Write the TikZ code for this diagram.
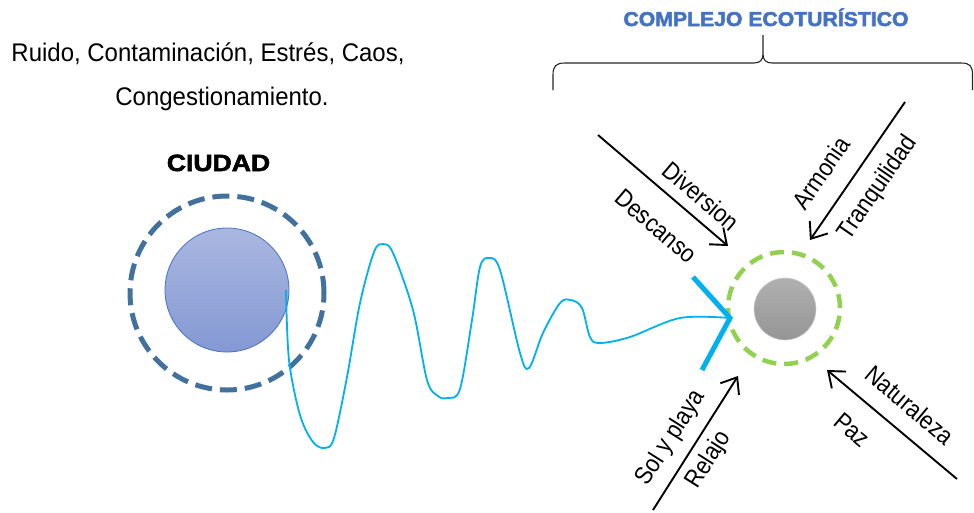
\documentclass[tikz,border=0pt]{standalone}
\usepackage{fontspec}
\setmainfont{Liberation Sans}
\newfontfamily\narrowfont[FakeStretch=0.94]{Liberation Sans}
\newfontfamily\lblfont[FakeStretch=0.88]{Liberation Sans}
\newfontfamily\titlefont[FakeBold=2.5,FakeStretch=1.06]{Liberation Sans Bold}
\newfontfamily\ciudadfont[FakeBold=2.5,FakeStretch=1.13]{Liberation Sans Bold}
\usetikzlibrary{arrows.meta,calc}
\definecolor{titleblue}{HTML}{4472C4}
\definecolor{ringblue}{HTML}{41719C}
\definecolor{citytop}{HTML}{AAB7E0}
\definecolor{citybot}{HTML}{8499D3}
\definecolor{wave}{HTML}{00B0F0}
\definecolor{ringgreen}{HTML}{92D050}
\definecolor{graytop}{HTML}{B0B0B0}
\definecolor{graybot}{HTML}{959595}
\begin{document}
\begin{tikzpicture}[x=1pt,y=-1pt,
  lbl/.style={font=\lblfont\fontsize{25}{30}\selectfont, inner sep=0pt},
  flow/.style={line width=1.9pt, -{Straight Barb[length=14pt,width=22pt,line width=1.9pt]}},
  brace/.style={line width=1.1pt, black!85},
  wavy/.style={wave, line width=1.8pt},
  vmark/.style={wave, line width=5pt}]
\useasboundingbox (0,0) rectangle (974,512);

% title and brace
\node[anchor=base, text=titleblue, inner sep=0pt, font=\titlefont\fontsize{20}{24}\selectfont] (title) at (766,26) {COMPLEJO ECOTURÍSTICO};
\coordinate (bl) at (553,90);
\coordinate (br) at (972.5,90);
\coordinate (bt) at (763,35);
\draw[brace] (bl) -- (553,75) .. controls (553,66) and (556,63) .. (565,63) -- (754,63)
  .. controls (760,63) and (763,60) .. (763,54) -- (bt)
  (763,54) .. controls (763,60) and (766,63) .. (772,63) -- (961,63)
  .. controls (970,63) and (972.5,66) .. (972.5,75) -- (br);

% left texts
\node[anchor=base, inner sep=0pt, font=\narrowfont\fontsize{25.5}{30}\selectfont] (prob1) at (208,61.7) {Ruido, Contaminación, Estrés, Caos,};
\node[anchor=base, inner sep=0pt, font=\narrowfont\fontsize{25.5}{30}\selectfont] (prob2) at (222,105) {Congestionamiento.};
\node[anchor=base, inner sep=0pt, font=\ciudadfont\fontsize{23.5}{28}\selectfont] (ciudadlbl) at (218.5,171) {CIUDAD};

% city
\node[circle, inner sep=0pt, minimum size=194pt, draw=ringblue, line width=5pt, dash pattern=on 17pt off 8pt] (cityring) at (227,293) {};
\node[circle, inner sep=0pt, minimum size=124pt, draw=titleblue, line width=0.8pt, top color=citytop, bottom color=citybot] (city) at (227,290) {};

% eco complex
\node[circle, inner sep=0pt, minimum size=112pt, draw=ringgreen, line width=4.5pt, dash pattern=on 14pt off 8pt] (ecoring) at (784,308) {};
\node[circle, inner sep=0pt, minimum size=62pt, draw=black!20, line width=0.6pt, top color=graytop, bottom color=graybot] (eco) at (785,309) {};

% wave
\coordinate (vtx) at (730,318);
\draw[wavy] plot[smooth, tension=0.55] coordinates {
 (286,290) (289,360) (300,415) (313,442) (325,448) (334,438) (347,377) (360,303) (374,252) (383,244) (393,253)
 (413,310) (427,380) (438,396) (448,398) (460,389) (472,320) (480,267) (489,258) (500,270)
 (520,353) (529,368) (543,333) (560,303) (571,300) (582,308) (590,337) (600,343) (630,337)
 (680,318) (vtx)};
\draw[vmark] ($(vtx)+(-37,-41)$) -- (vtx) -- ($(vtx)+(-28,52)$);

% arrows
\coordinate (d1) at (598,135); \coordinate (d2) at (728,246);
\coordinate (a1) at (905,102); \coordinate (a2) at (810,240);
\coordinate (s1) at (653,510); \coordinate (s2) at (738,376);
\coordinate (n1) at (957,479); \coordinate (n2) at (827,370);
\draw[flow] (d1) -- (d2);
\draw[flow] (a1) -- (a2);
\draw[flow] (s1) -- (s2);
\draw[flow] (n1) -- (n2);

% labels
\node[lbl, rotate=-40.5] (ldiv) at (701,196) {Diversion};
\node[lbl, rotate=-40.5] (ldes) at (656,226) {Descanso};
\node[lbl, rotate=55.5] (larm) at (821,173) {Armonia};
\node[lbl, rotate=55.5] (ltra) at (878,188) {Tranquilidad};
\node[lbl, rotate=57.6] (lsol) at (671,438) {Sol y playa};
\node[lbl, rotate=57.6] (lrel) at (709,460) {Relajo};
\node[lbl, rotate=-40] (lnat) at (910,405) {Naturaleza};
\node[lbl, rotate=-40] (lpaz) at (852,430) {Paz};
\end{tikzpicture}
\end{document}
